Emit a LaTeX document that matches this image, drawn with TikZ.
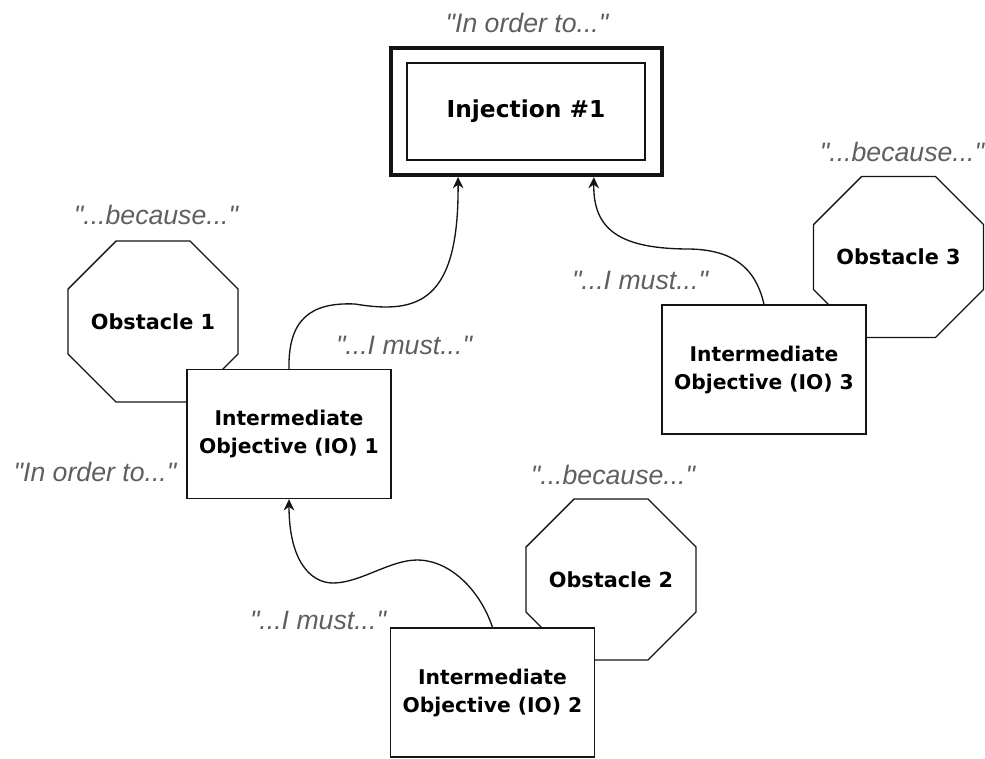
\documentclass[tikz,border=0pt]{standalone}
\usepackage{fontspec}
\setmainfont{DejaVu Sans}
\newfontfamily\sayingfont{Liberation Sans}
\usetikzlibrary{arrows.meta,shapes.misc,calc}
\definecolor{saygray}{RGB}{95,95,95}
\definecolor{ink}{RGB}{20,20,20}

\begin{document}
\begin{tikzpicture}[x=0.75pt,y=-0.75pt,
  box/.style={draw=ink, line width=1pt, fill=white, align=center, inner sep=0pt,
    font=\fontsize{15.2}{21}\selectfont\bfseries},
  objective/.style={box, minimum width=204*0.75pt, minimum height=129*0.75pt},
  obstacle/.style={box, chamfered rectangle,
    chamfered rectangle xsep=43*0.75pt, chamfered rectangle ysep=40*0.75pt,
    minimum width=170*0.75pt, minimum height=161*0.75pt,
    font=\fontsize{15.6}{20}\selectfont\bfseries},
  saying/.style={text=saygray, inner sep=0pt,
    font=\sayingfont\fontsize{20}{24}\selectfont\itshape},
  link/.style={draw=ink, line width=1pt,
    -{Stealth[length=8.5pt,width=8pt,inset=2.8pt]}},
]
\useasboundingbox (0,0) rectangle (985,758);

% obstacles (behind the objective boxes)
\node[obstacle] (ob1) at (153,321.5) {Obstacle 1};
\node[obstacle] (ob3) at (898.5,257) {Obstacle 3};
\node[obstacle] (ob2) at (611,579.5) {Obstacle 2};

% intermediate objectives
\node[objective] (io1) at (289,434) {Intermediate\\Objective (IO) 1};
\node[objective] (io3) at (764,369.5) {Intermediate\\Objective (IO) 3};
\node[objective] (io2) at (492.5,692.5) {Intermediate\\Objective (IO) 2};

% injection: thick outer frame with an inner frame
\node[draw=ink, line width=3pt, fill=white, minimum width=271*0.75pt,
  minimum height=127*0.75pt] (inj) at (526.5,111.5) {};
\node[box, minimum width=238*0.75pt, minimum height=97*0.75pt,
  font=\fontsize{17.5}{20}\selectfont\bfseries] (injin) at (526,111.5) {Injection \#1};

% curved links
\draw[link] (io1.north) .. controls (288,320) and (310,302) .. (355,304)
  .. controls (420,315) and (459,300) .. ($(inj.south west)!0.251!(inj.south east)$);
\draw[link] (io3.north) .. controls (755,265) and (730,250) .. (690,249)
  .. controls (620,249) and (593,230) .. ($(inj.south west)!0.745!(inj.south east)$);
\draw[link] (io2.north) .. controls (480,590) and (450,560) .. (417,560)
  .. controls (390,560) and (360,583) .. (333,583)
  .. controls (310,583) and (289,560) .. (io1.south);

% sayings
\node[saying] (s0) at (527,23) {"In order to..."};
\node[saying] (s1) at (156,215) {"...because..."};
\node[saying] (s2) at (404,345) {"...I must..."};
\node[saying] (s3) at (95,472) {"In order to..."};
\node[saying] (s4) at (902,152) {"...because..."};
\node[saying] (s5) at (640,280) {"...I must..."};
\node[saying] (s6) at (613,475) {"...because..."};
\node[saying] (s7) at (318,620) {"...I must..."};
\end{tikzpicture}
\end{document}
